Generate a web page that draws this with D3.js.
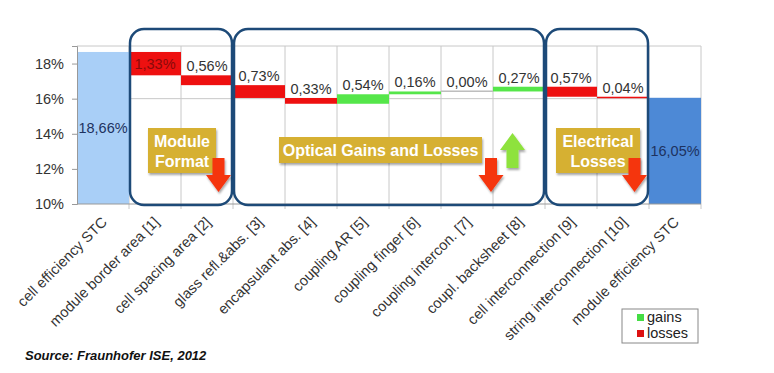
<!DOCTYPE html>
<html>
<head>
<meta charset="utf-8">
<script src="https://cdn.jsdelivr.net/npm/d3@7"></script>
<style>
  body { margin: 0; background: #fff; }
  svg { font-family: "Liberation Sans", Arial, Helvetica, sans-serif; }
  .axis text { fill: #333; font-size: 14.5px; }
</style>
</head>
<body>
<div id="chart"></div>
<script>

// categories and step values (percent points)
var categories = ["cell efficiency STC", "module border area [1]", "cell spacing area [2]",
    "glass refl.&abs. [3]", "encapsulant abs. [4]", "coupling AR [5]", "coupling finger [6]",
    "coupling intercon. [7]", "coupl. backsheet [8]", "cell interconnection [9]",
    "string interconnection [10]", "module efficiency STC"];
var stepValues = [18.66, -1.33, -0.56, -0.73, -0.33, 0.54, 0.16, 0.00, 0.27, -0.57, -0.04, 16.05];
var stepKinds = ["start", "loss", "loss", "loss", "loss", "gain", "gain", "zero", "gain", "loss", "loss", "end"];
var yTicks = [10, 12, 14, 16, 18];

// grouping boxes (first and last category index)
var groupNames = ["Module Format", "Optical Gains and Losses", "Electrical Losses"];
var groupFrom = [1, 3, 9];
var groupTo = [2, 8, 10];

var legendNames = ["gains", "losses"];

var colors = {start: "#a9cff7", end: "#4d89d6", loss: "#ee1010", gain: "#55e64a", zero: "#bdbdbd"};

var width = 774, height = 373;
var margin = {top: 46, left: 77, right: 73, bottom: 169};
var plotW = width - margin.left - margin.right,
    plotH = height - margin.top - margin.bottom;

var svg = d3.select("#chart").append("svg")
    .attr("width", width)
    .attr("height", height);

var g = svg.append("g")
    .attr("transform", "translate(" + margin.left + "," + margin.top + ")");

var x = d3.scaleBand().domain(categories).range([0, plotW]).padding(0);
var y = d3.scaleLinear().domain([10, 19]).range([plotH, 0]);

// waterfall
var steps = [];
var run = 0;
categories.forEach(function(c, i) {
    var v = stepValues[i], k = stepKinds[i];
    var s = {cat: c, value: v, kind: k};
    if (k == "start" || k == "end") { s.lo = 10; s.hi = v; run = v; }
    else { s.lo = Math.min(run, run + v); s.hi = Math.max(run, run + v); run = run + v; }
    steps.push(s);
});

var fmt = function(v) { return Math.abs(v).toFixed(2).replace(".", ",") + "%"; };

// gridlines
g.selectAll(".vgrid")
    .data(categories.slice(1))
    .enter().append("line")
    .attr("x1", function(d) { return x(d); })
    .attr("x2", function(d) { return x(d); })
    .attr("y1", 0).attr("y2", plotH + 5)
    .attr("stroke", "#c8c8c8").attr("stroke-width", 1);
g.append("line").attr("x1", plotW).attr("x2", plotW)
    .attr("y1", 0).attr("y2", plotH + 5).attr("stroke", "#c8c8c8");
g.selectAll(".hgrid")
    .data([16, 19])
    .enter().append("line")
    .attr("x1", 0).attr("x2", plotW)
    .attr("y1", function(d) { return y(d); })
    .attr("y2", function(d) { return y(d); })
    .attr("stroke", "#c8c8c8");

// bars
g.selectAll(".bar")
    .data(steps)
    .enter().append("rect")
    .attr("x", function(d) { return x(d.cat); })
    .attr("width", x.bandwidth())
    .attr("y", function(d) { return d.kind == "zero" ? y(d.hi) - 1 : y(d.hi); })
    .attr("height", function(d) { return Math.max(1.5, y(d.lo) - y(d.hi)); })
    .attr("fill", function(d) { return colors[d.kind]; });

// value labels
g.selectAll(".val")
    .data(steps)
    .enter().append("text")
    .attr("x", function(d) { return x(d.cat) + x.bandwidth() / 2; })
    .attr("y", function(d, i) {
        if (d.kind == "start" || d.kind == "end") return y((d.lo + d.hi) / 2) + 5;
        if (i == 1) return y((d.lo + d.hi) / 2) + 5;
        return y(d.hi) - 4;
    })
    .attr("text-anchor", "middle")
    .attr("font-size", 14.5)
    .attr("fill", function(d, i) {
        if (d.kind == "start" || d.kind == "end") return "#1d3260";
        if (i == 1) return "#8a0a0a";
        return "#333";
    })
    .text(function(d) { return fmt(d.value); });

// axes
var yAxis = d3.axisLeft(y).tickValues(yTicks).tickSize(5).tickFormat(function(d) { return d + "%"; });
var yAxisG = g.append("g").attr("class", "axis").call(yAxis);
yAxisG.select(".domain").attr("stroke", "#999");
yAxisG.selectAll(".tick line").attr("stroke", "#999");
yAxisG.selectAll(".tick text").attr("x", -13);

g.append("line").attr("x1", 0).attr("x2", plotW)
    .attr("y1", plotH).attr("y2", plotH).attr("stroke", "#999");

// x labels
g.selectAll(".xlab")
    .data(categories)
    .enter().append("text")
    .attr("transform", function(d) {
        return "translate(" + (x(d) + x.bandwidth() / 2 + 5) + "," + (plotH + 19) + ") rotate(-45)";
    })
    .attr("text-anchor", "end")
    .attr("font-size", 14.6)
    .attr("fill", "#333")
    .text(function(d) { return d; });

// group boxes
groupNames.forEach(function(name, i) {
    var x0 = x(categories[groupFrom[i]]) + 1,
        x1 = x(categories[groupTo[i]]) + x.bandwidth() - 1;
    g.append("rect")
        .attr("x", x0).attr("y", -17)
        .attr("width", x1 - x0).attr("height", plotH + 18)
        .attr("rx", 14).attr("ry", 14)
        .attr("fill", "none")
        .attr("stroke", "#1d4a78")
        .attr("stroke-width", 2.5);
});

// annotation labels
var defs = svg.append("defs");
var f = defs.append("filter").attr("id", "shadow").attr("x", "-10%").attr("y", "-10%")
    .attr("width", "130%").attr("height", "140%");
f.append("feDropShadow").attr("dx", 1).attr("dy", 2).attr("stdDeviation", 1.2)
    .attr("flood-color", "#000").attr("flood-opacity", 0.35);

function tag(x0, y0, w, h, lines) {
    svg.append("rect").attr("x", x0).attr("y", y0).attr("width", w).attr("height", h)
        .attr("fill", "#d6b032").attr("filter", "url(#shadow)");
    lines.forEach(function(t, j) {
        svg.append("text")
            .attr("x", x0 + w / 2)
            .attr("y", y0 + h / 2 + 6 + (j - (lines.length - 1) / 2) * 20)
            .attr("text-anchor", "middle")
            .attr("font-size", 16).attr("font-weight", "bold")
            .attr("fill", "#fff")
            .text(t);
    });
}
tag(148, 128, 68, 45, ["Module", "Format"]);
tag(279, 137, 203, 26, ["Optical Gains and Losses"]);
tag(556, 128, 84, 45, ["Electrical", "Losses"]);

function arrow(cx, y0, y1, up, color) {
    var hw = 12.5, sw = 6, hh = 17;
    var p;
    if (!up) {
        p = [[cx - sw, y0], [cx + sw, y0], [cx + sw, y1 - hh], [cx + hw, y1 - hh], [cx, y1],
             [cx - hw, y1 - hh], [cx - sw, y1 - hh]];
    } else {
        p = [[cx - sw, y1], [cx + sw, y1], [cx + sw, y0 + hh], [cx + hw, y0 + hh], [cx, y0],
             [cx - hw, y0 + hh], [cx - sw, y0 + hh]];
    }
    svg.append("path").attr("d", d3.line()(p) + "Z")
        .attr("fill", color).attr("filter", "url(#shadow)");
}
arrow(218.5, 158, 192, false, "#f5340f");
arrow(491, 158, 192, false, "#f5340f");
arrow(512.5, 133, 168, true, "#8ee23e");
arrow(634.5, 158, 192, false, "#f5340f");

// legend
var lg = svg.append("g").attr("transform", "translate(622,309)");
lg.append("rect").attr("width", 76).attr("height", 34)
    .attr("fill", "#fff").attr("stroke", "#888");
legendNames.forEach(function(n, i) {
    lg.append("rect").attr("x", 15).attr("y", 5 + i * 16).attr("width", 7).attr("height", 7)
        .attr("fill", i == 0 ? "#44dd44" : "#dd1111");
    lg.append("text").attr("x", 25).attr("y", 13 + i * 16)
        .attr("font-size", 14.5).attr("fill", "#222").text(n);
});

// source
svg.append("text")
    .attr("x", 25).attr("y", 360)
    .attr("font-size", 13).attr("font-weight", "bold").attr("font-style", "italic")
    .attr("fill", "#111")
    .text("Source: Fraunhofer ISE, 2012");

</script>
</body>
</html>
